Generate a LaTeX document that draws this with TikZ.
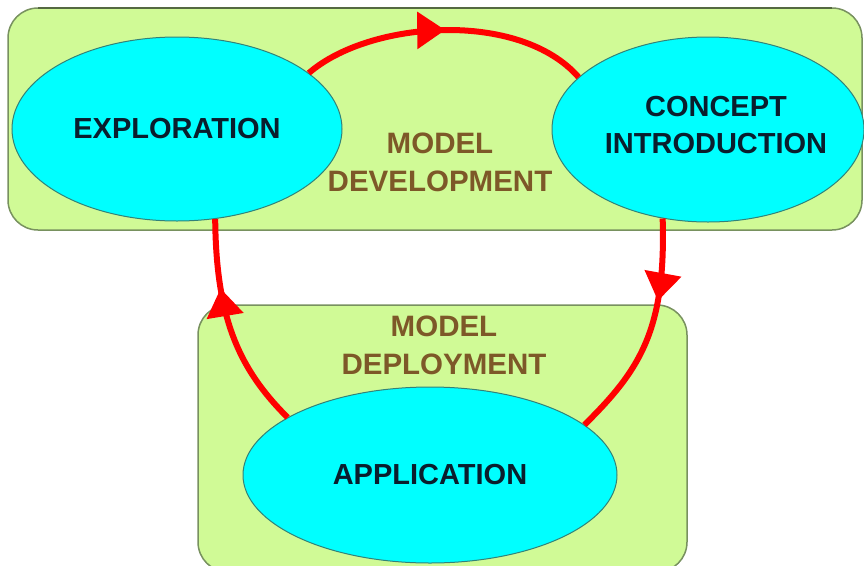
\documentclass[tikz,border=0pt]{standalone}
\usepackage{fontspec}
\setmainfont{Liberation Sans}
\usetikzlibrary{shapes.geometric,arrows.meta,decorations.markings}
\definecolor{boxgreen}{RGB}{208,250,150}
\definecolor{boxedge}{RGB}{120,145,95}
\definecolor{boxtop}{RGB}{85,105,65}
\definecolor{cyanfill}{RGB}{0,255,255}
\definecolor{cyanedge}{RGB}{50,130,120}
\definecolor{brownlbl}{RGB}{125,88,40}
\definecolor{darktext}{RGB}{10,30,45}
\tikzset{
  region/.style={draw=boxedge,line width=1.5pt,fill=boxgreen,rounded corners=30pt},
  stagetext/.style={font=\fontsize{29}{37}\selectfont\bfseries,text=darktext,align=center},
  stage/.style={ellipse,draw=cyanedge,line width=1pt,fill=cyanfill,inner sep=0pt,stagetext},
  regionlabel/.style={font=\fontsize{29.5}{38}\selectfont\bfseries,text=brownlbl,align=center},
  flow/.style={draw=red,line width=6pt,
    postaction={decorate,decoration={markings,
      mark=at position #1 with {\arrow[red]{Triangle[length=28pt,width=36pt]}}}}}
}
\begin{document}
\begin{tikzpicture}[x=1pt,y=-1pt]
\useasboundingbox (0,0) rectangle (864,565);
\clip (0,0) rectangle (864,565);
% regions
\draw[region] (8,8) rectangle (862,230);
\draw[boxtop,line width=2pt] (38,8) -- (832,8);
\draw[region] (198,305) rectangle (687,572);
% stages
\node[stage,minimum width=330pt,minimum height=184pt] (expl) at (177,129) {EXPLORATION};
\node[stage,minimum width=312pt,minimum height=185pt,
  label={[stagetext,xshift=8pt,yshift=4pt]center:CONCEPT\\INTRODUCTION}] (conc) at (708,129.5) {};
\node[stage,minimum width=374pt,minimum height=176pt] (appl) at (430,475) {APPLICATION};
% region labels
\node[regionlabel] (devlbl) at (440,162) {MODEL\\DEVELOPMENT};
\node[regionlabel] (deplbl) at (444,345) {MODEL\\DEPLOYMENT};
% flow arrows
\draw[flow=0.5] (expl.23) .. controls (370,20) and (520,10) .. (conc.158);
\draw[flow=0.36] (conc.243) .. controls (666,330) and (640,370) .. (appl.18);
\draw[flow=0.68] (appl.158) .. controls (240,370) and (216,320) .. (expl.293);
\end{tikzpicture}
\end{document}
